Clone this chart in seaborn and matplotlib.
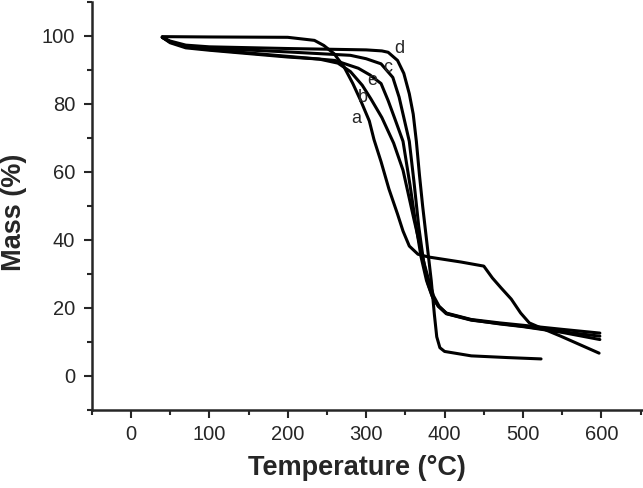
import numpy as np
import pandas as pd
import matplotlib
matplotlib.use("Agg")
import matplotlib.pyplot as plt
import seaborn as sns
from matplotlib.ticker import MultipleLocator

# TGA curves (temperature in C, mass in %)
a_temp = [40, 100, 200, 234, 246, 259, 272, 283, 293, 304, 310, 319, 329, 340, 347, 355, 366, 379, 421, 450,
          461, 472, 485, 497, 508, 523, 548, 597]
a_mass = [99.8, 99.7, 99.6, 98.7, 97.2, 94.8, 90.8, 86, 81, 75, 69.5, 63, 55, 47.6, 42.6, 38.2, 35.8, 35, 33.5, 32.3,
          28.8, 25.9, 22.6, 18.5, 15.6, 14.1, 11.7, 6.7]

b_temp = [40, 50, 70, 100, 200, 240, 264, 280, 295, 306, 320, 335, 347, 361, 374, 380, 386, 393, 403, 434, 470,
          500, 550, 598]
b_mass = [99.6, 98, 96.5, 95.8, 93.8, 93.2, 92, 89.5, 85.5, 81.5, 76, 68.5, 60.5, 46, 33, 28, 23.5, 20.5, 18.3,
          16.5, 15.3, 14.5, 12.8, 10.7]

c_temp = [40, 50, 70, 100, 200, 280, 300, 319, 334, 342, 348, 355, 361, 367, 373, 379, 385, 392, 402, 434, 470,
          500, 550, 598]
c_mass = [99.6, 98.3, 97, 96.4, 95.3, 94.3, 93.3, 91.8, 87.8, 82, 76, 69, 57, 44, 34, 27, 23, 20.5, 18.5, 16.6,
          15.6, 14.9, 13.7, 12.6]

d_temp = [40, 50, 70, 100, 200, 300, 320, 328, 340, 348, 355, 360, 364, 368, 372, 378, 383, 387, 390, 394, 400,
          434, 480, 523]
d_mass = [99.6, 98.5, 97.3, 96.8, 96.3, 95.9, 95.6, 95.2, 92.8, 89, 83, 77, 69, 59, 50, 38, 28, 18, 11.5, 8.3,
          7.2, 5.9, 5.4, 5.0]

e_temp = [40, 50, 70, 100, 200, 260, 290, 305, 319, 328, 336, 347, 356, 363, 370, 377, 384, 392, 402, 434, 470,
          500, 550, 598]
e_mass = [99.6, 98.2, 96.8, 96, 94, 92.8, 90.5, 88.5, 86, 81, 76, 69, 56, 45, 35, 28, 23.5, 20.5, 18.3, 16.4,
          15.4, 14.6, 13, 11.7]

curve_names = ["a", "b", "c", "d", "e"]
label_temp = [287, 296, 327, 342, 308]
label_mass = [75.7, 82, 90.8, 96.3, 87]

curves = {
    "a": (a_temp, a_mass),
    "b": (b_temp, b_mass),
    "c": (c_temp, c_mass),
    "d": (d_temp, d_mass),
    "e": (e_temp, e_mass),
}
df = pd.concat(
    [pd.DataFrame({"Temperature": t, "Mass": m, "sample": k}) for k, (t, m) in curves.items()],
    ignore_index=True,
)

sns.set_style("ticks")
plt.rcParams["font.family"] = ["Liberation Sans", "DejaVu Sans"]

fig = plt.figure(figsize=(6.43, 4.88), dpi=100)
ax = fig.add_axes([0.1426, 0.160, 0.8574, 0.836])

sns.lineplot(
    data=df, x="Temperature", y="Mass", hue="sample", units="sample",
    estimator=None, sort=False, palette=["black"] * 5, linewidth=2.2,
    legend=False, ax=ax,
)

for name, tx, my in zip(curve_names, label_temp, label_mass):
    ax.text(tx, my, name, fontsize=13, ha="center", va="center")

ax.set_xlim(-50, 653)
ax.set_ylim(-10, 110)
ax.xaxis.set_minor_locator(MultipleLocator(50))
ax.yaxis.set_minor_locator(MultipleLocator(10))
ax.set_xticks(range(0, 700, 100))
ax.set_yticks(range(0, 120, 20))

sns.despine(ax=ax)
for side in ["left", "bottom"]:
    ax.spines[side].set_linewidth(1.8)
ax.tick_params(which="major", length=6, width=1.5, labelsize=14.5, pad=5)
ax.tick_params(which="minor", length=3.5, width=1.5)
ax.tick_params(axis="y", which="major", pad=6)

ax.set_xlabel("Temperature (°C)", fontsize=19.5, fontweight="bold")
ax.set_ylabel("Mass (%)", fontsize=19.5, fontweight="bold")
ax.xaxis.set_label_coords(0.482, -0.11)
ax.yaxis.set_label_coords(-0.118, 0.485)

fig.savefig("out.png", dpi=100)
